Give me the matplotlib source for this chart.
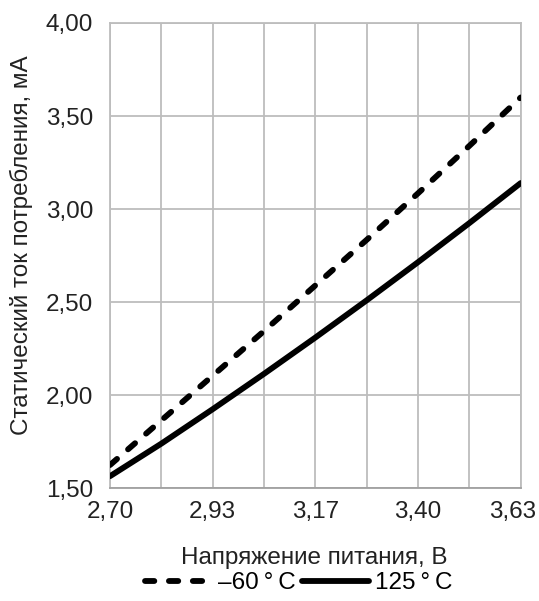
import matplotlib
matplotlib.use("Agg")
import matplotlib.pyplot as plt
from matplotlib.transforms import ScaledTranslation
import numpy as np

plt.rcParams['font.family'] = ['Liberation Sans', 'DejaVu Sans']

# Data
x_ticks = [2.70, 2.9325, 3.165, 3.3975, 3.63]
x_tick_labels = ["2,70", "2,93", "3,17", "3,40", "3,63"]
y_ticks = [1.5, 2.0, 2.5, 3.0, 3.5, 4.0]
y_tick_labels = ["1,50", "2,00", "2,50", "3,00", "3,50", "4,00"]

voltage = [2.70, 2.81625, 2.9325, 3.04875, 3.165, 3.28125, 3.3975, 3.51375, 3.63]
current_m60 = [1.625, 1.865, 2.105, 2.345, 2.59, 2.835, 3.085, 3.34, 3.60]
current_125 = [1.565, 1.74, 1.925, 2.115, 2.31, 2.51, 2.715, 2.925, 3.14]

label_m60 = "–60\u2009°\u2009C"
label_125 = "125\u2009°\u2009C"

fig = plt.figure(figsize=(5.39, 6.01), dpi=100)
ax = fig.add_axes([110/539, 1-488.3/601, (520.7-110)/539, (488.3-23)/601])

ax.plot(voltage, current_m60, color='black', lw=4.2, linestyle=(0, (1.6, 2.5)),
        dash_capstyle='round', solid_capstyle='round', label=label_m60, zorder=3)
ax.plot(voltage, current_125, color='black', lw=4.2, solid_capstyle='round',
        label=label_125, zorder=3)

ax.set_xlim(2.70, 3.63)
ax.set_ylim(1.5, 4.0)
ax.set_xticks(x_ticks)
ax.set_xticklabels(x_tick_labels)
ax.set_xticks(np.linspace(2.70, 3.63, 9), minor=True)
ax.set_yticks(y_ticks)
ax.set_yticklabels(y_tick_labels)

grid_c = '#bdbdbd'
ax.grid(True, which='both', color=grid_c, lw=1.3)
ax.set_axisbelow(True)
for s in ax.spines.values():
    s.set_color(grid_c)
    s.set_linewidth(1.3)
ax.spines['bottom'].set_color('#a0a0a0')

txt_c = '#222222'
ax.tick_params(axis='both', which='both', length=0, labelsize=17.5, colors=txt_c)
ax.tick_params(axis='x', pad=9)
ax.tick_params(axis='y', pad=12)

# shift last x tick label left so it stays inside the figure
last = ax.get_xticklabels()[-1]
last.set_transform(last.get_transform() + ScaledTranslation(-0.085, 0, fig.dpi_scale_trans))

ax.set_xlabel("Напряжение питания, В", fontsize=17.5, color=txt_c, va='center')
ax.xaxis.set_label_coords((314-110)/410.7, (488.3-558)/465.3)
ax.set_ylabel("Статический ток потребления, мА", fontsize=17.5, color=txt_c, va='center')
ax.yaxis.set_label_coords((21-110)/410.7, (488.3-245)/465.3)

handles, labels = ax.get_legend_handles_labels()
fig.legend(handles, labels, loc='center', bbox_to_anchor=(299/539, 1-583/601),
           ncol=2, frameon=False, fontsize=17.5, handlelength=2.75,
           handletextpad=0.25, columnspacing=0.25, borderpad=0, borderaxespad=0)

fig.savefig("out.png", dpi=100)
